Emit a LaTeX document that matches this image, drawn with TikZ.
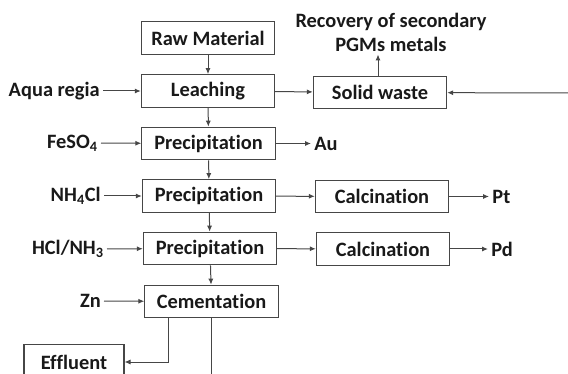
\documentclass[tikz,border=0pt]{standalone}
\usepackage{fontspec}
\setmainfont{Carlito}[Ligatures={NoCommon,NoContextual}]
\usetikzlibrary{arrows.meta}
\definecolor{linegray}{RGB}{70,70,70}
\definecolor{textblack}{RGB}{25,25,25}

\begin{document}
\begin{tikzpicture}[x=0.75pt,y=0.75pt,yscale=-1,xscale=1,
    stage/.style={draw=linegray,line width=0.8pt,minimum width=100pt,minimum height=24.5pt,inner sep=0pt,font=\fontsize{15.3}{18}\selectfont\bfseries,text=textblack},
    reagent/.style={inner sep=2.25pt,font=\fontsize{15.3}{18}\selectfont\bfseries,text=textblack},
    flow/.style={draw=linegray,line width=0.75pt,-{Latex[length=4.5pt,width=3.8pt]}}]
            %set diagram size 568 x 374
            \useasboundingbox (0,0) rectangle (568,374);
            \clip (0,0) rectangle (568,374);

            %Shape: Rectangle (main column)
            \node [stage] (raw) at (208,38) {Raw Material};
            \node [stage] (leach) at (208,91) {Leaching};
            \node [stage] (prec1) at (208.5,143.5) {Precipitation};
            \node [stage] (prec2) at (209,196) {Precipitation};
            \node [stage] (prec3) at (210,248.5) {Precipitation};
            \node [stage] (cem) at (211.5,301.5) {Cementation};
            \node [stage,minimum width=75pt,minimum height=26pt] (eff) at (74,362) {Effluent};

            %Shape: Rectangle (right column)
            \node [stage] (solid) at (380,92.5) {Solid waste};
            \node [stage] (calc1) at (382,196.5) {Calcination};
            \node [stage] (calc2) at (383,249) {Calcination};

            % Text Node
            \node [reagent,anchor=east] (aqua) at (103,91) {Aqua regia};
            \node [reagent,anchor=east] (feso) at (101,143) {FeSO\textsubscript{4}};
            \node [reagent,anchor=east] (nhcl) at (104,196) {NH\textsubscript{4}Cl};
            \node [reagent,anchor=east] (hclnh) at (107,249) {HCl/NH\textsubscript{3}};
            \node [reagent,anchor=east] (zn) at (104,301) {Zn};
            \node [reagent,anchor=west] (au) at (311,143.5) {Au};
            \node [reagent,anchor=west] (pt) at (489,196.5) {Pt};
            \node [reagent,anchor=west] (pd) at (488,249) {Pd};
            \node [reagent,align=center] (recov) at (391,32) {Recovery of secondary\\PGMs metals};
            \coordinate (scrap) at (568,93);

            % main flow
            \draw [flow] (raw) -- (leach);
            \draw [flow] (leach) -- (prec1);
            \draw [flow] (prec1) -- (prec2);
            \draw [flow] (prec2) -- (prec3);
            \draw [flow] (prec3) -- (cem);

            % reagents in
            \draw [flow] (aqua) -- (leach);
            \draw [flow] (feso) -- (prec1);
            \draw [flow] (nhcl) -- (prec2);
            \draw [flow] (hclnh) -- (prec3);
            \draw [flow] (zn) -- (cem);

            % products out
            \draw [flow] (leach) -- (solid);
            \draw [flow] (scrap) -- (solid);
            \draw [flow] ([xshift=-1.5pt]solid.north) -- ([xshift=-1.5pt]solid.north |- recov.south);
            \draw [flow] (prec1) -- (au);
            \draw [flow] (prec2) -- (calc1);
            \draw [flow] (prec3) -- (calc2);
            \draw [flow] (calc1) -- (pt);
            \draw [flow] (calc2) -- (pd);
            \draw [flow] ([xshift=-32.6pt]cem.south) |- (eff);
            \draw [draw=linegray,line width=0.75pt] (cem.south) -- ++(0,70);

\end{tikzpicture}
\end{document}
